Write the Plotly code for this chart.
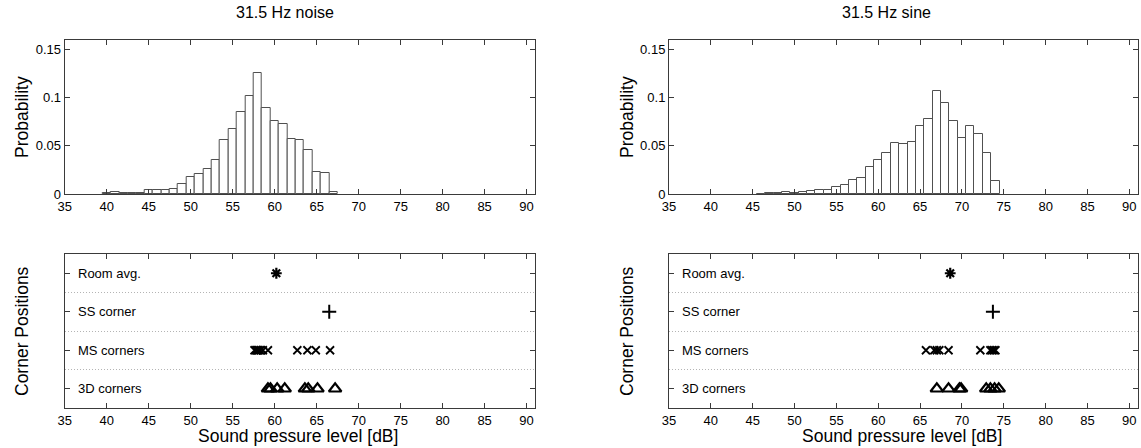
import plotly.graph_objects as go

# ---------------- data ----------------
titles = ["31.5 Hz noise", "31.5 Hz sine"]

bins_noise = list(range(40, 68))
prob_noise = [0.0008, 0.0017, 0.0007, 0.0007, 0.001, 0.0038, 0.004, 0.004, 0.0052, 0.010,
              0.0174, 0.0207, 0.0259, 0.0353, 0.0557, 0.068, 0.0849, 0.1018, 0.1253, 0.089,
              0.0756, 0.0731, 0.0576, 0.0559, 0.0462, 0.0224, 0.0214, 0.0017]

bins_sine = list(range(46, 75))
prob_sine = [0.0005, 0.0007, 0.0007, 0.0017, 0.0008, 0.002, 0.003, 0.004, 0.004, 0.0069,
             0.009, 0.0145, 0.0162, 0.0276, 0.0352, 0.0428, 0.0535, 0.052, 0.0545, 0.0711,
             0.0783, 0.1073, 0.0949, 0.0763, 0.0587, 0.0711, 0.0628, 0.0424, 0.0131]

row_labels = ["3D corners", "MS corners", "SS corner", "Room avg."]
row_pos = [1, 2, 3, 4]

noise_room = [60.2]
noise_ss = [66.5]
noise_ms = [57.6, 57.8, 57.9, 58.0, 58.1, 58.3, 58.6, 59.2, 62.7, 63.9, 64.9, 66.6]
noise_3d = [59.2, 59.5, 60.3, 61.2, 63.6, 64.0, 65.1, 67.2]

sine_room = [68.6]
sine_ss = [73.7]
sine_ms = [65.7, 66.7, 67.0, 67.3, 68.4, 72.2, 73.4, 73.6, 73.8, 74.0]
sine_3d = [67.0, 68.4, 69.7, 69.9, 72.9, 73.4, 73.9, 74.4]

x_ticks = list(range(35, 95, 5))
p_ticks = [0, 0.05, 0.1, 0.15]
p_ticktext = ["0", "0.05", "0.1", "0.15"]

# ---------------- style ----------------
W, H = 1141, 448
FONT = "Arial, Liberation Sans, Helvetica, sans-serif"
AX = "#3a3a3a"

def px_x(v):
    return v / W

def px_y(v):
    return 1 - v / H

dom_left = [px_x(64.7), px_x(535)]
dom_right = [px_x(669), px_x(1137.7)]
dom_top = [px_y(194), px_y(40)]
dom_bot = [px_y(408), px_y(254)]

fig = go.Figure()

bar_style = dict(marker=dict(color="white", line=dict(color="#505050", width=1)),
                 width=1, showlegend=False)
fig.add_trace(go.Bar(x=bins_noise, y=prob_noise, xaxis="x", yaxis="y", **bar_style))
fig.add_trace(go.Bar(x=bins_sine, y=prob_sine, xaxis="x2", yaxis="y2", **bar_style))

def add_markers(xa, ya, room, ss, ms, d3):
    groups = [
        (room, row_pos[3], dict(symbol="asterisk-open", size=9, line=dict(width=2.2, color="black"), color="black")),
        (ss, row_pos[2], dict(symbol="cross-thin-open", size=10, line=dict(width=2, color="black"), color="black")),
        (ms, row_pos[1], dict(symbol="x-thin-open", size=8, line=dict(width=1.8, color="black"), color="black")),
        (d3, row_pos[0], dict(symbol="triangle-up-open", size=11, line=dict(width=2.2, color="black"), color="black")),
    ]
    for vals, pos, mk in groups:
        fig.add_trace(go.Scatter(x=vals, y=[pos] * len(vals), mode="markers", marker=mk,
                                 xaxis=xa, yaxis=ya, showlegend=False, cliponaxis=False))

add_markers("x3", "y3", noise_room, noise_ss, noise_ms, noise_3d)
add_markers("x4", "y4", sine_room, sine_ss, sine_ms, sine_3d)

common_axis = dict(showline=True, linecolor=AX, linewidth=1, mirror="ticks",
                   ticks="inside", ticklen=5, tickcolor=AX, tickwidth=1,
                   showgrid=False, zeroline=False, automargin=False,
                   tickfont=dict(family=FONT, size=13, color="black"))

def xaxis(dom, anchor):
    return dict(domain=dom, anchor=anchor, range=[35, 91], tickvals=x_ticks, **common_axis)

def yaxis_top(anchor):
    return dict(domain=dom_top, anchor=anchor, range=[0, 0.16], tickvals=p_ticks,
                ticktext=p_ticktext, **common_axis)

def yaxis_bot(anchor):
    return dict(domain=dom_bot, anchor=anchor, range=[0.5, 4.5], tickvals=row_pos,
                showticklabels=False,
                minor=dict(tick0=0.5, dtick=1, showgrid=True, griddash="1px,2px",
                           gridcolor="#b4b4b4", gridwidth=1, ticks=""),
                **common_axis)

fig.update_layout(
    width=W, height=H, autosize=False,
    margin=dict(l=0, r=0, t=0, b=0, pad=0),
    paper_bgcolor="white", plot_bgcolor="white",
    bargap=0,
    font=dict(family=FONT, color="black"),
    xaxis=xaxis(dom_left, "y"),
    yaxis=yaxis_top("x"),
    xaxis2=xaxis(dom_right, "y2"),
    yaxis2=yaxis_top("x2"),
    xaxis3=xaxis(dom_left, "y3"),
    yaxis3=yaxis_bot("x3"),
    xaxis4=xaxis(dom_right, "y4"),
    yaxis4=yaxis_bot("x4"),
)

ann = []
for tx, xt, t in zip([285, 886], [298, 902], titles):
    ann.append(dict(text=t, x=px_x(tx), y=px_y(12), xref="paper", yref="paper",
                    xanchor="center", yanchor="middle",
                    showarrow=False, font=dict(size=16, family=FONT)))
    ann.append(dict(text="Sound pressure level [dB]", x=px_x(xt), y=px_y(436), xref="paper", yref="paper",
                    xanchor="center", yanchor="middle",
                    showarrow=False, font=dict(size=17.5, family=FONT)))
for xpix in [22, 627]:
    ann.append(dict(text="Probability", x=px_x(xpix), y=(dom_top[0] + dom_top[1]) / 2,
                    xref="paper", yref="paper", textangle=-90, showarrow=False,
                    xanchor="center", yanchor="middle",
                    font=dict(size=17.5, family=FONT)))
    ann.append(dict(text="Corner Positions", x=px_x(xpix), y=(dom_bot[0] + dom_bot[1]) / 2,
                    xref="paper", yref="paper", textangle=-90, showarrow=False,
                    xanchor="center", yanchor="middle",
                    font=dict(size=17.5, family=FONT)))

# row labels inside the lower panels (tick labels of the category rows)
for xa, ya in [("x3", "y3"), ("x4", "y4")]:
    for lab, pos in zip(row_labels, row_pos):
        ann.append(dict(text=lab, x=0, y=pos, xref=f"{xa} domain", yref=ya,
                        xanchor="left", yanchor="middle", xshift=11, showarrow=False,
                        font=dict(size=13, family=FONT, color="black")))
fig.update_layout(annotations=ann)

fig.write_html("out.html",
               config={"displayModeBar": False},
               post_script="document.body.style.margin='0';document.body.style.padding='0';"
                           "document.body.style.overflow='hidden';")
